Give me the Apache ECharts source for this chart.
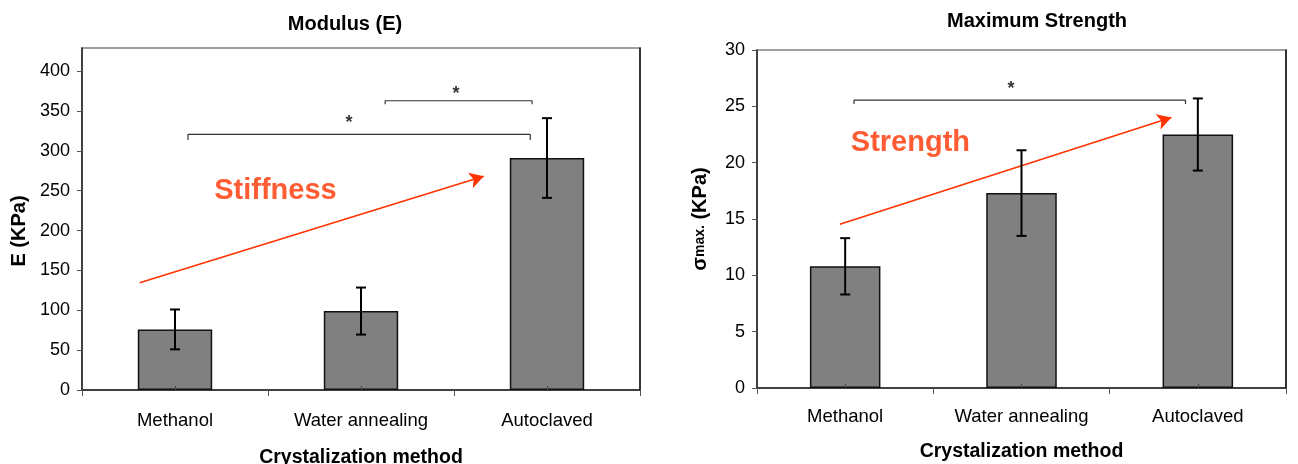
<!DOCTYPE html>
<html>
<head>
<meta charset="utf-8">
<script src="https://cdn.jsdelivr.net/npm/echarts@6/dist/echarts.min.js"></script>
<style>html,body{margin:0;padding:0;background:#fff;}#c{width:1298px;height:464px;}</style>
</head>
<body>
<div id="c"></div>
<script>
// ---- data ----
const categories = ['Methanol', 'Water annealing', 'Autoclaved'];
const modulusMean = [76, 99, 291];
const modulusErr = [25, 29.5, 50];
const strengthMean = [10.8, 17.3, 22.5];
const strengthErr = [2.5, 3.8, 3.2];
const modulusTicks = [0, 50, 100, 150, 200, 250, 300, 350, 400];
const strengthTicks = [0, 5, 10, 15, 20, 25, 30];
// annotations (x in category units, centre of category i = i)
const modulusArrow = [[-0.19, 134.5], [1.66, 268]];
const modulusBrackets = [
  [[0.07, 313.5], [0.07, 320.6], [1.91, 320.6], [1.91, 313.5]],
  [[1.13, 358.5], [1.13, 362.8], [1.92, 362.8], [1.92, 358.5]]
];
const modulusStars = [[0.935, 335, '*'], [1.511, 371, '*']];
const modulusNote = [[0.54, 249.5, 'Stiffness']];
const strengthArrow = [[-0.03, 14.54], [1.85, 24.0]];
const strengthBrackets = [
  [[0.05, 25.2], [0.05, 25.55], [1.93, 25.55], [1.93, 25.2]]
];
const strengthStars = [[0.94, 26.5, '*']];
const strengthNote = [[0.37, 21.76, 'Strength']];

const FONT = "'Liberation Sans', Arial, sans-serif";
const RED = '#ff3300';

function errData(mean, err) {
  return mean.map((m, i) => [i, m - err[i], m + err[i]]);
}
function errRender(params, api) {
  const x = api.value(0);
  const lo = api.coord([x, api.value(1)]);
  const hi = api.coord([x, api.value(2)]);
  const w = 5;
  const st = { stroke: '#000', lineWidth: 2 };
  return {
    type: 'group',
    children: [
      { type: 'line', shape: { x1: lo[0], y1: lo[1], x2: hi[0], y2: hi[1] }, style: st },
      { type: 'line', shape: { x1: hi[0] - w, y1: hi[1], x2: hi[0] + w, y2: hi[1] }, style: st },
      { type: 'line', shape: { x1: lo[0] - w, y1: lo[1], x2: lo[0] + w, y2: lo[1] }, style: st }
    ]
  };
}

function catAxis(gridIndex, nameGap, labelMargin) {
  return {
    type: 'category', gridIndex, data: categories, position: 'bottom', boundaryGap: true,
    axisLine: { show: true, onZero: false, lineStyle: { color: '#222', width: 1.5 } },
    axisTick: { show: true, interval: 0, alignWithLabel: false, length: 6, lineStyle: { color: '#555', width: 1 } },
    axisLabel: { color: '#000', fontSize: 18.5, fontFamily: FONT, margin: labelMargin, interval: 0 },
    name: 'Crystalization method', nameLocation: 'middle', nameGap,
    nameTextStyle: { color: '#000', fontSize: 19.5, fontWeight: 'bold', fontFamily: FONT }
  };
}
function valXAxis(gridIndex) {
  return {
    type: 'value', gridIndex, min: -0.5, max: 2.5, position: 'bottom', z: 10,
    axisLine: { show: false, onZero: false }, splitLine: { show: false },
    axisLabel: { show: false },
    axisTick: { show: true, inside: true, length: 4, customValues: [0, 1, 2], lineStyle: { color: '#444' } }
  };
}
function leftY(gridIndex, max, interval, ticks, name, nameGap, rich, pad) {
  return {
    type: 'value', gridIndex, min: 0, max, interval, position: 'left',
    axisLine: { show: true, onZero: false, lineStyle: { color: '#222', width: 1.5 } },
    axisTick: { show: true, length: 5, customValues: ticks, lineStyle: { color: '#555' } },
    axisLabel: { color: '#000', fontSize: 18, fontFamily: FONT, margin: 12, customValues: ticks },
    splitLine: { show: false },
    name, nameLocation: 'middle', nameGap,
    nameTextStyle: Object.assign({ color: '#000', fontSize: 20, fontWeight: 'bold', fontFamily: FONT, padding: pad }, rich ? { rich } : {})
  };
}
function rightY(gridIndex, max) {
  return {
    type: 'value', gridIndex, min: 0, max, position: 'right',
    axisLine: { show: true, onZero: false, lineStyle: { color: '#111', width: 1.5 } },
    axisTick: { show: false }, axisLabel: { show: false }, splitLine: { show: false }
  };
}

function panelSeries(xCat, xVal, yIdx, mean, err, arrow, brackets, stars, note) {
  const s = [];
  s.push({
    type: 'bar', xAxisIndex: xCat, yAxisIndex: yIdx, data: mean, barWidth: '40%',
    itemStyle: { color: '#808080', borderColor: '#111', borderWidth: 1.5 }, silent: true
  });
  s.push({
    type: 'custom', xAxisIndex: xCat, yAxisIndex: yIdx, data: errData(mean, err),
    renderItem: errRender, encode: { x: 0, y: [1, 2] }, silent: true, z: 5
  });
  brackets.forEach(b => s.push({
    type: 'line', xAxisIndex: xVal, yAxisIndex: yIdx, data: b, symbol: 'none',
    lineStyle: { color: '#333', width: 1.2 }, silent: true, z: 4
  }));
  s.push({
    type: 'line', xAxisIndex: xVal, yAxisIndex: yIdx, data: [], silent: true,
    markLine: {
      silent: true, symbol: ['none', 'arrow'], symbolSize: [12, 14], label: { show: false },
      lineStyle: { color: RED, width: 1.6, type: 'solid' },
      data: [[{ coord: arrow[0] }, { coord: arrow[1] }]]
    }
  });
  s.push({
    type: 'scatter', xAxisIndex: xVal, yAxisIndex: yIdx, data: stars, symbolSize: 1,
    itemStyle: { color: 'transparent' }, silent: true,
    label: { show: true, position: 'inside', formatter: p => p.data[2], color: '#000', fontSize: 18, fontWeight: 'bold', fontFamily: FONT }
  });
  s.push({
    type: 'scatter', xAxisIndex: xVal, yAxisIndex: yIdx, data: note, symbolSize: 1,
    itemStyle: { color: 'transparent' }, silent: true,
    label: { show: true, position: 'inside', formatter: p => p.data[2], color: RED, fontSize: 29, fontWeight: 'bold', fontFamily: FONT }
  });
  return s;
}

const chart = echarts.init(document.getElementById('c'));
chart.setOption({
  animation: false,
  backgroundColor: '#fff',
  title: [
    { text: 'Modulus (E)', left: 340, top: 9, textAlign: 'center',
      textStyle: { fontSize: 20, fontWeight: 'bold', color: '#000', fontFamily: FONT } },
    { text: 'Maximum Strength', left: 1032, top: 6, textAlign: 'center',
      textStyle: { fontSize: 20, fontWeight: 'bold', color: '#000', fontFamily: FONT } }
  ],
  grid: [
    { left: 82, top: 48, right: 658, bottom: 74, show: true, borderColor: '#808080', borderWidth: 1.5,
      containLabel: false, outerBoundsMode: 'none' },
    { left: 757, top: 50, right: 12, bottom: 76, show: true, borderColor: '#808080', borderWidth: 1.5,
      containLabel: false, outerBoundsMode: 'none' }
  ],
  xAxis: [catAxis(0, 58, 21), valXAxis(0), catAxis(1, 54, 19), valXAxis(1)],
  yAxis: [
    leftY(0, 429, 50, modulusTicks, 'E (KPa)', 53, null, [0, 24, 0, 0]),
    rightY(0, 429),
    leftY(1, 30, 5, strengthTicks, '{s|σ}{m|max.}{s| (KPa)}', 47,
      { s: { fontSize: 20, fontWeight: 'bold', fontFamily: FONT, color: '#000' },
        m: { fontSize: 14, fontWeight: 'bold', fontFamily: FONT, color: '#000' } }, 0),
    rightY(1, 30)
  ],
  series: [].concat(
    panelSeries(0, 1, 0, modulusMean, modulusErr, modulusArrow, modulusBrackets, modulusStars, modulusNote),
    panelSeries(2, 3, 2, strengthMean, strengthErr, strengthArrow, strengthBrackets, strengthStars, strengthNote)
  )
});
</script>
</body>
</html>
